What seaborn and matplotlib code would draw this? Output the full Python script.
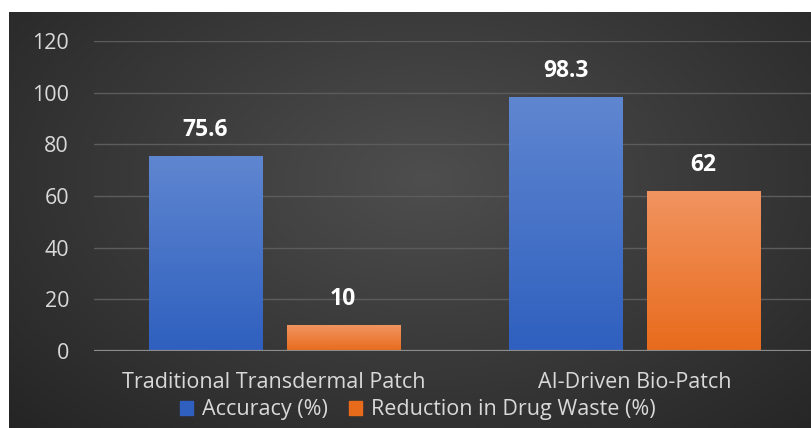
import numpy as np
import pandas as pd
import matplotlib
matplotlib.use("Agg")
import matplotlib.pyplot as plt
import matplotlib.colors as mcolors
from matplotlib.patches import Patch
import seaborn as sns

# --- data ---
categories = ["Traditional Transdermal Patch", "AI-Driven Bio-Patch"]
series = ["Accuracy (%)", "Reduction in Drug Waste (%)"]
accuracy = [75.6, 98.3]
waste_reduction = [10, 62]
y_ticks = [0, 20, 40, 60, 80, 100, 120]

df = pd.DataFrame({
    "category": categories * 2,
    "series": [series[0]] * 2 + [series[1]] * 2,
    "value": accuracy + waste_reduction,
})

BLUE_TOP, BLUE_BOT = "#5f86d0", "#2f60bf"
ORANGE_TOP, ORANGE_BOT = "#f19460", "#e86b1c"
TEXT = "#d9d9d9"

sns.set_style("dark")
plt.rcParams["font.family"] = ["Open Sans", "DejaVu Sans"]

W, H = 811, 428
fig = plt.figure(figsize=(W / 100, H / 100), dpi=100)
fig.patch.set_facecolor("white")

# dark radial background (chart area), white strip top/left
bg = fig.add_axes([9 / W, 0, 1 - 9 / W, 1 - 12 / H])
yy, xx = np.mgrid[0:1:300j, 0:1:600j]
r = np.sqrt(((xx - 0.52) / 0.75) ** 2 + ((yy - 0.4) / 0.9) ** 2)
shade = np.clip(1 - r, 0, 1)
cmap_bg = mcolors.LinearSegmentedColormap.from_list("bg", ["#232323", "#4e4e4e"])
bg.imshow(shade, cmap=cmap_bg, aspect="auto", extent=[0, 1, 0, 1], vmin=0, vmax=1)
bg.axis("off")

ax = fig.add_axes([94 / W, (H - 351) / H, (815 - 94) / W, 310 / H])
ax.set_facecolor("none")
sns.barplot(data=df, x="category", y="value", hue="series",
            palette=[BLUE_BOT, ORANGE_BOT], width=0.765, gap=0.18,
            ax=ax, legend=False, zorder=3, linewidth=0)

# vertical gradient fill for each bar
grad = np.linspace(1, 0, 100).reshape(-1, 1)
for cont, (top, bot) in zip(ax.containers, [(BLUE_TOP, BLUE_BOT), (ORANGE_TOP, ORANGE_BOT)]):
    cm = mcolors.LinearSegmentedColormap.from_list("g", [bot, top])
    for p in cont.patches:
        x0, y0 = p.get_x(), p.get_y()
        im = ax.imshow(grad, cmap=cm, aspect="auto", zorder=3.5,
                       extent=[x0, x0 + p.get_width(), y0, y0 + p.get_height()])
        im.set_clip_path(p)
    ax.bar_label(cont, fmt="%g", padding=10, color="white",
                 fontsize=16.5, fontweight="bold")

ax.set_xlim(-0.5, 1.5)
ax.set_ylim(0, 120)
ax.set_yticks(y_ticks)
ax.grid(axis="y", color="#5c5c5c", lw=1)
ax.grid(axis="x", visible=False)
ax.axhline(0, color="#8c8c8c", lw=1.6, zorder=4)
for s in ax.spines.values():
    s.set_visible(False)
ax.tick_params(axis="y", length=0, pad=18, labelcolor=TEXT, labelsize=15.5)
ax.tick_params(axis="x", length=0, pad=15, labelcolor=TEXT, labelsize=15.5)
ax.set_xlabel("")
ax.set_ylabel("")

handles = [Patch(color=BLUE_BOT, label=series[0]), Patch(color=ORANGE_BOT, label=series[1])]
fig.legend(handles=handles, loc="center", bbox_to_anchor=(418 / W, 1 - 410 / H),
           ncol=2, frameon=False, fontsize=15.5, labelcolor=TEXT,
           handlelength=0.6, handleheight=0.6, handletextpad=0.4, columnspacing=1.0,
           borderpad=0.1)

fig.savefig("out.png", dpi=100, facecolor=fig.get_facecolor())
